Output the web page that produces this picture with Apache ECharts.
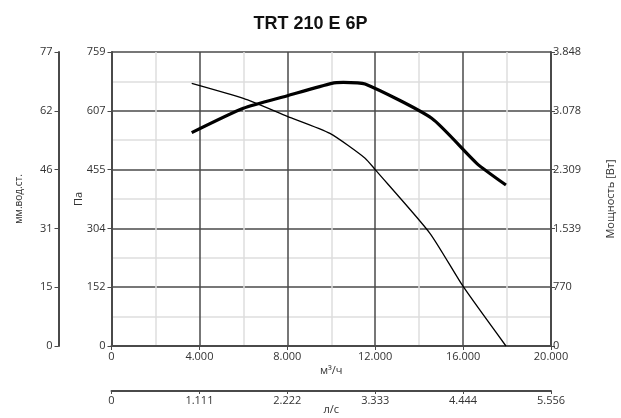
<!DOCTYPE html>
<html><head><meta charset="utf-8">
<script src="https://cdn.jsdelivr.net/npm/echarts@6/dist/echarts.min.js"></script>
<style>html,body{margin:0;padding:0;background:#fff}#c{width:621px;height:418px}</style>
</head><body><div id="c"></div>
<script>
const title = 'TRT 210 E 6P';
const flowTicks = [0, 4000, 8000, 12000, 16000, 20000];
const paMax = 759;
const mmMax = 77.37;
const powerMax = 3848;
const lsMax = 5555.6;
// pressure curve [m3/h, Pa]
const pressureFlow = [3650, 6000, 8000, 9940, 11540, 12020, 14490, 16010, 17950];
const pressurePa   = [678,  639,  593,  549,  485,  454,  291,  153,  0];
// power curve [m3/h, W]
const powerFlow = [3650, 6000, 7970, 10020, 10550, 11540, 14570, 16620, 17950];
const powerW    = [2792, 3111, 3272, 3438, 3451, 3429, 2980, 2391, 2107];

const fmt = v => { const r = Math.round(v); return r.toString().replace(/\B(?=(\d{3})+(?!\d))/g, '.'); };
const axisCol = '#4a4a4a';
const lbl = {color:'#333', fontSize:11, fontFamily:'Open Sans'};
const nameSt = {color:'#333', fontSize:11, fontFamily:'Open Sans'};

const chart = echarts.init(document.getElementById('c'));
chart.setOption({
  animation:false,
  title:{text:title, top:10, left:'center', textStyle:{fontFamily:'Liberation Sans', fontWeight:'bold', fontSize:18, color:'#111'}},
  grid:{left:111.5, right:70, top:52, bottom:72, outerBoundsMode:'none', containLabel:false},
  xAxis:[
    {type:'value', min:0, max:20000, interval:4000, position:'bottom',
     name:'м³/ч', nameLocation:'middle', nameGap:19, nameMoveOverlap:false, nameTextStyle:nameSt,
     axisLine:{show:true, onZero:false, lineStyle:{color:axisCol, width:2}},
     axisTick:{show:true, length:4, lineStyle:{color:axisCol}},
     axisLabel:Object.assign({formatter:fmt, margin:5}, lbl),
     splitLine:{show:true, lineStyle:{color:axisCol, width:1.5}},
     minorTick:{show:false, splitNumber:2},
     minorSplitLine:{show:true, lineStyle:{color:'#dedede', width:1.5}}},
    {type:'value', min:0, max:lsMax, interval:lsMax/5, position:'bottom', offset:45,
     name:'л/с', nameLocation:'middle', nameGap:13, nameMoveOverlap:false, nameTextStyle:nameSt,
     axisLine:{show:true, onZero:false, lineStyle:{color:axisCol, width:2}},
     axisTick:{show:true, length:3, lineStyle:{color:axisCol}},
     axisLabel:Object.assign({formatter:fmt, margin:4, showMaxLabel:true}, lbl),
     splitLine:{show:false}}
  ],
  yAxis:[
    {type:'value', min:0, max:paMax, interval:paMax/5, position:'left',
     name:'Па', nameLocation:'middle', nameGap:27, nameRotate:90, nameMoveOverlap:false, nameTextStyle:nameSt,
     axisLine:{show:true, onZero:false, lineStyle:{color:axisCol, width:2}},
     axisTick:{show:true, length:4, lineStyle:{color:axisCol}},
     axisLabel:Object.assign({formatter:fmt, margin:6}, lbl),
     splitLine:{show:true, lineStyle:{color:axisCol, width:1.5}},
     minorTick:{show:false, splitNumber:2},
     minorSplitLine:{show:true, lineStyle:{color:'#dedede', width:1.5}}},
    {type:'value', min:0, max:mmMax, interval:mmMax/5, position:'left', offset:53,
     name:'мм.вод.ст.', nameLocation:'middle', nameGap:34, nameRotate:90, nameMoveOverlap:false, nameTextStyle:{color:'#333', fontSize:10, fontFamily:'Open Sans'},
     axisLine:{show:true, onZero:false, lineStyle:{color:axisCol, width:2}},
     axisTick:{show:true, length:4, lineStyle:{color:axisCol}},
     axisLabel:Object.assign({formatter:fmt, margin:6}, lbl),
     splitLine:{show:false}},
    {type:'value', min:0, max:powerMax, interval:powerMax/5, position:'right',
     name:'Мощность [Вт]', nameLocation:'middle', nameGap:54, nameRotate:90, nameMoveOverlap:false, nameTextStyle:nameSt,
     axisLine:{show:true, onZero:false, lineStyle:{color:axisCol, width:2}},
     axisTick:{show:true, length:4, lineStyle:{color:axisCol}},
     axisLabel:Object.assign({formatter:fmt, margin:2}, lbl),
     splitLine:{show:false}}
  ],
  series:[
    {type:'line', xAxisIndex:0, yAxisIndex:0, showSymbol:false, smooth:0.2,
     data:pressureFlow.map((f,i)=>[f, pressurePa[i]]),
     lineStyle:{color:'#000', width:1.3}},
    {type:'line', xAxisIndex:0, yAxisIndex:2, showSymbol:false, smooth:0.2,
     data:powerFlow.map((f,i)=>[f, powerW[i]]),
     lineStyle:{color:'#000', width:3.2}}
  ]
});
</script></body></html>
